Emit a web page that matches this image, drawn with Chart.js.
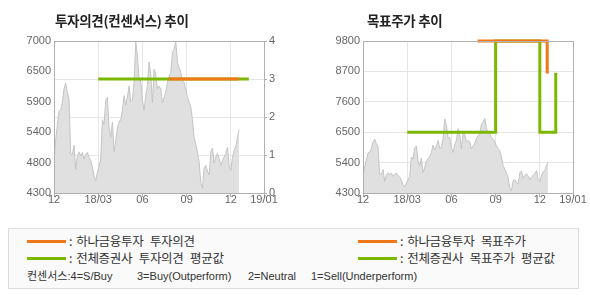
<!DOCTYPE html>
<html>
<head>
<meta charset="utf-8">
<script src="https://cdn.jsdelivr.net/npm/chart.js@4.4.1/dist/chart.umd.min.js"></script>
<style>
  body { margin: 0; background: #fff; width: 590px; height: 300px; position: relative; overflow: hidden; font-family: 'Noto Sans CJK KR', sans-serif; }
  .box { position: absolute; top: 0; width: 300px; height: 215px; }
  .title { position: absolute; top: 10px; font-size: 13.5px; font-weight: bold; color: #222; line-height: 20px; white-space: nowrap; letter-spacing: -0.3px; }
  #legend { position: absolute; left: 8px; top: 228px; width: 571px; height: 61px; border: 1px solid #ddd; background: #fafafa; box-sizing: border-box; }
  .ln { position: absolute; width: 39px; height: 3px; }
  .tx { position: absolute; font-size: 12.5px; color: #333; line-height: 15px; white-space: nowrap; letter-spacing: -0.3px; word-spacing: 4px; }
  .tx b { font-weight: normal; margin-right: 4px; }
  .nt { position: absolute; font-size: 11px; color: #333; line-height: 14px; white-space: nowrap; font-family: 'Liberation Sans', 'Noto Sans CJK KR', sans-serif; }
</style>
</head>
<body>
<div class="box" style="left:0"><canvas id="opinionChart" width="300" height="215"></canvas></div>
<div class="box" style="left:290px"><canvas id="targetChart" width="300" height="215"></canvas></div>
<div class="title" style="left:55px">투자의견(컨센서스) 추이</div>
<div class="title" style="left:367px">목표주가 추이</div>

<div id="legend">
  <div class="ln" style="left:18px;top:11px;background:#f07818"></div>
  <div class="tx" style="left:60px;top:4px"><b>:</b>하나금융투자 투자의견</div>
  <div class="ln" style="left:18px;top:28px;background:#7db800"></div>
  <div class="tx" style="left:60px;top:21px"><b>:</b>전체증권사 투자의견 평균값</div>
  <div class="ln" style="left:349px;top:11px;background:#f07818"></div>
  <div class="tx" style="left:391px;top:4px"><b>:</b>하나금융투자 목표주가</div>
  <div class="ln" style="left:349px;top:28px;background:#7db800"></div>
  <div class="tx" style="left:391px;top:21px"><b>:</b>전체증권사 목표주가 평균값</div>
  <div class="nt" style="left:18px;top:40px">컨센서스:4=S/Buy</div>
  <div class="nt" style="left:128px;top:40px">3=Buy(Outperform)</div>
  <div class="nt" style="left:239px;top:40px">2=Neutral</div>
  <div class="nt" style="left:302px;top:40px">1=Sell(Underperform)</div>
</div>

<script>
// x axis in months, 0 = 2017/12
const axisMonths = [0, 3, 6, 9, 12, 14.25];
const axisLabels = ['12', '18/03', '06', '09', '12', '19/01'];

// closing price, sampled roughly every 1/9 month
const priceStartMonth = 0;
const priceStepMonth = 0.1132;
const price = [
  4850, 5250, 5500, 5750, 5780, 5900, 6150, 6250, 6080, 5980,
  5000, 4980, 5150, 4720, 4950, 5030, 4960, 5020, 4900, 4980,
  5020, 4930, 4880, 4760, 4600, 4520, 4660, 4780, 4900, 5600,
  5520, 5940, 6000, 5470, 5290, 5560, 5030, 5230, 5450, 5560,
  5600, 5770, 6030, 5860, 6000, 6200, 5920, 5950, 6270, 6980,
  6750, 6300, 6300, 5950, 5770, 6030, 6210, 6630, 6400, 5900,
  6500, 6400, 6150, 6200, 6150, 5900, 6000, 6100, 6270, 6380,
  6440, 6800, 6850, 7000, 6620, 6530, 6440, 6300, 6260, 6140,
  6000, 5910, 5830, 5600, 5290, 5170, 5020, 4850, 4480, 4380,
  4750, 4790, 4690, 4620, 5030, 5100, 4830, 4940, 5000, 4910,
  4790, 4880, 4940, 5000, 5110, 4790, 4700, 4940, 5060, 5120,
  5300, 5420
];

// investment opinion (right axis of first chart)
const hanaOpinionMonths = [7.8, 12.55];
const hanaOpinion = [3, 3];
const avgOpinionMonths = [3, 13.22];
const avgOpinion = [3, 3];

// target prices
const hanaTargetMonths = [7.78, 12.5];
const hanaTarget = [9800, 8620];
const avgTargetMonths = [3, 9, 12, 13.08];
const avgTarget = [6500, 9800, 6500, 8650];

// axis ticks
const opinionPriceTicks = [4300, 4840, 5380, 5920, 6460, 7000];
const opinionPriceLabels = ['4300', '4800', '5400', '5900', '6500', '7000'];
const targetPriceTicks = [4300, 5400, 6500, 7600, 8700, 9800];

const ORANGE = '#f07818';
const GREEN = '#7db800';

Chart.defaults.font.family = "'Liberation Sans', Arial, sans-serif";
Chart.defaults.font.size = 11;
Chart.defaults.color = '#666';
Chart.defaults.animation = false;

function pts(xs, ys) {
  return xs.map((x, i) => ({ x: x, y: ys[i] }));
}
const pricePts = price.map((v, i) => ({ x: priceStartMonth + i * priceStepMonth, y: v }));

// frame around the plot area (chart.js has no top border)
const frame = {
  id: 'frame',
  afterDraw(chart) {
    const a = chart.chartArea, c = chart.ctx;
    c.save();
    c.strokeStyle = '#b0b0b0';
    c.lineWidth = 1;
    c.strokeRect(Math.round(a.left) + 0.5, Math.round(a.top) + 0.5, Math.round(a.right - a.left), Math.round(a.bottom - a.top));
    c.restore();
  }
};

function xScale(h) {
  return {
    type: 'linear', min: 0, max: 14.25,
    afterBuildTicks: s => { s.ticks = axisMonths.map(v => ({ value: v })); },
    ticks: { callback: (v, i) => axisLabels[i], padding: -4, maxRotation: 0, autoSkip: false },
    grid: { color: '#e6e6e6', tickColor: '#b0b0b0', tickLength: 4 },
    border: { color: '#b0b0b0' },
    afterFit: s => { s.height = h; }
  };
}

function priceDataset(axis) {
  return {
    data: pricePts, yAxisID: axis, borderColor: '#c4c4c4', backgroundColor: '#e0e0e0',
    borderWidth: 1, pointRadius: 0, fill: 'start', tension: 0, order: 3
  };
}

new Chart(document.getElementById('opinionChart'), {
  type: 'line',
  data: {
    datasets: [
      { data: pts(hanaOpinionMonths, hanaOpinion), yAxisID: 'y1', borderColor: ORANGE, borderWidth: 3, pointRadius: 0, clip: false, order: 0 },
      { data: pts(avgOpinionMonths, avgOpinion), yAxisID: 'y1', borderColor: GREEN, borderWidth: 3, pointRadius: 0, clip: false, order: 1 },
      priceDataset('y')
    ]
  },
  options: {
    responsive: false,
    layout: { padding: { top: 41, left: 0, right: 0, bottom: 0 } },
    plugins: { legend: { display: false }, tooltip: { enabled: false } },
    scales: {
      x: xScale(22),
      y: {
        position: 'left', min: 4300, max: 7000,
        afterBuildTicks: s => { s.ticks = opinionPriceTicks.map(v => ({ value: v })); },
        ticks: { callback: (v, i) => opinionPriceLabels[i], padding: 3 },
        grid: { drawOnChartArea: false, tickLength: 0 },
        border: { color: '#b0b0b0' },
        afterFit: s => { s.width = 54; }
      },
      y1: {
        position: 'right', min: 0, max: 4,
        ticks: { stepSize: 1, padding: 2 },
        grid: { color: '#e6e6e6', tickColor: '#b0b0b0', tickLength: 3 },
        border: { color: '#b0b0b0' },
        afterFit: s => { s.width = 36; }
      }
    }
  },
  plugins: [frame]
});

new Chart(document.getElementById('targetChart'), {
  type: 'line',
  data: {
    datasets: [
      // horizontal first, then vertical at the next point
      { data: pts(hanaTargetMonths, hanaTarget), stepped: 'before', borderColor: ORANGE, borderWidth: 3, pointRadius: 0, clip: false, order: 0 },
      { data: pts(avgTargetMonths, avgTarget), stepped: 'before', borderColor: GREEN, borderWidth: 3, pointRadius: 0, clip: false, order: 1 },
      priceDataset('y')
    ]
  },
  options: {
    responsive: false,
    layout: { padding: { top: 41, left: 0, right: 17, bottom: 0 } },
    plugins: { legend: { display: false }, tooltip: { enabled: false } },
    scales: {
      x: xScale(22),
      y: {
        position: 'left', min: 4300, max: 9800,
        afterBuildTicks: s => { s.ticks = targetPriceTicks.map(v => ({ value: v })); },
        ticks: { padding: 3, callback: v => String(v) },
        grid: { color: '#e6e6e6', tickLength: 0 },
        border: { color: '#b0b0b0' },
        afterFit: s => { s.width = 73; }
      }
    }
  },
  plugins: [frame]
});
</script>
</body>
</html>
